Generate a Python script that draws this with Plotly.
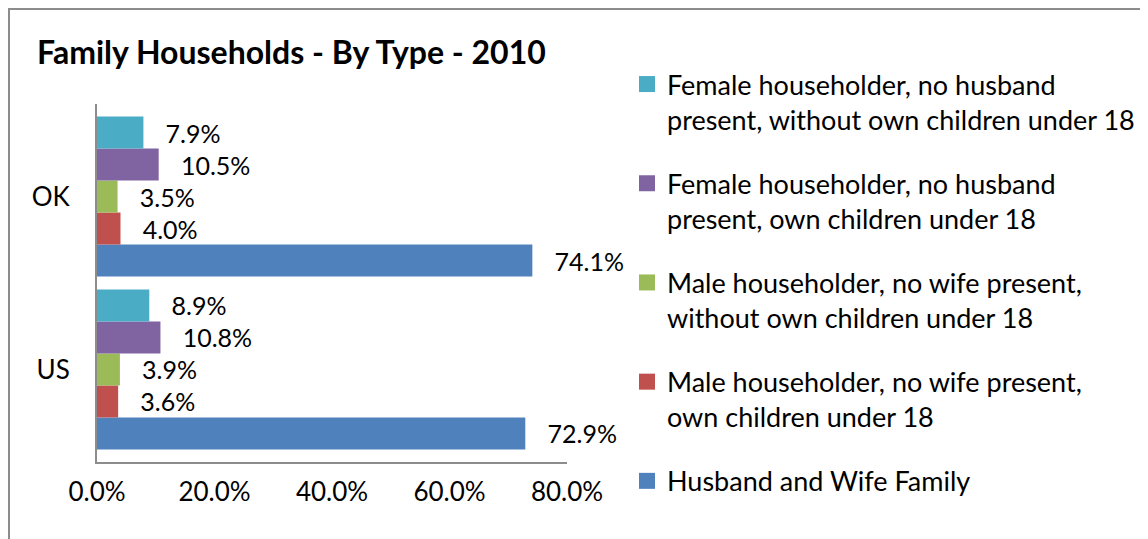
import plotly.graph_objects as go

categories = ["US", "OK"]
series_names = [
    "Husband and Wife Family",
    "Male householder, no wife present,<br>own children under 18",
    "Male householder, no wife present,<br>without own children under 18",
    "Female householder, no husband<br>present, own children under 18",
    "Female householder, no husband<br>present, without own children under 18",
]
husband_wife = [72.9, 74.1]
male_own = [3.6, 4.0]
male_without = [3.9, 3.5]
female_own = [10.8, 10.5]
female_without = [8.9, 7.9]
series_values = [husband_wife, male_own, male_without, female_own, female_without]
colors = ["#4F81BD", "#C0504D", "#9BBB59", "#8064A2", "#4BACC6"]
x_ticks = [0, 20, 40, 60, 80]
x_tick_labels = ["0.0%", "20.0%", "40.0%", "60.0%", "80.0%"]

FONT = "Lato"
W, H = 1148, 539
L, T = 89, 96
PR, PB = 559, 454
R, B = W - PR, H - PB
pw, ph = PR - L, PB - T

def px_x(p):
    return (p - L) / pw

def px_y(p):
    return (PB - p) / ph

fig = go.Figure()
n = len(series_names)
for i, (name, vals, col) in enumerate(zip(series_names, series_values, colors)):
    fig.add_trace(go.Bar(
        y=categories, x=vals, name=name, orientation="h",
        marker=dict(color=col, line=dict(width=0)),
        text=vals, texttemplate="   %{x:.1f}%", textposition="outside",
        textfont=dict(family=FONT, size=25, color="#000000"),
        constraintext="none", cliponaxis=False,
        showlegend=False,
    ))
# legend entries (square swatches)
for i, (name, col) in enumerate(zip(series_names, colors)):
    fig.add_trace(go.Scatter(
        x=[None], y=[None], mode="markers", name=name,
        marker=dict(symbol="square", size=16, color=col),
        legendgroup=f"g{i}", legendrank=n - i, showlegend=True,
    ))

fig.update_layout(
    width=W, height=H,
    margin=dict(l=L, r=R, t=T, b=B),
    paper_bgcolor="white", plot_bgcolor="white",
    barmode="group", bargap=0.075, bargroupgap=0,
    font=dict(family=FONT, size=26, color="#000000"),
    title=dict(text="<b>Family Households - By Type - 2010</b>",
               x=29 / W, xanchor="left", y=1 - 45 / H, yanchor="middle",
               font=dict(family=FONT, size=32, color="#000000")),
    xaxis=dict(range=[0, 80], tickvals=x_ticks, ticktext=x_tick_labels,
               showgrid=False, zeroline=False, showline=True,
               linecolor="#8C8C8C", linewidth=2, ticks="",
               ticklabelstandoff=6, tickfont=dict(size=26)),
    yaxis=dict(range=[-0.535, 1.535], showgrid=False, zeroline=False,
               showline=True, linecolor="#8C8C8C", linewidth=2, ticks="",
               ticklabelstandoff=20, tickfont=dict(size=26)),
    legend=dict(x=px_x(619), xanchor="left", y=px_y(52), yanchor="top",
                traceorder="grouped", tracegroupgap=26,
                valign="top", font=dict(family=FONT, size=27),
                itemwidth=30, bgcolor="rgba(0,0,0,0)", maxheight=2000),
    showlegend=True,
    shapes=[
        dict(type="rect", xref="paper", yref="paper",
             x0=px_x(1), x1=px_x(1400), y0=px_y(900), y1=px_y(1),
             line=dict(color="#8C8C8C", width=2), fillcolor="rgba(0,0,0,0)",
             layer="below"),
    ],
)

fig.write_html("out.html")
